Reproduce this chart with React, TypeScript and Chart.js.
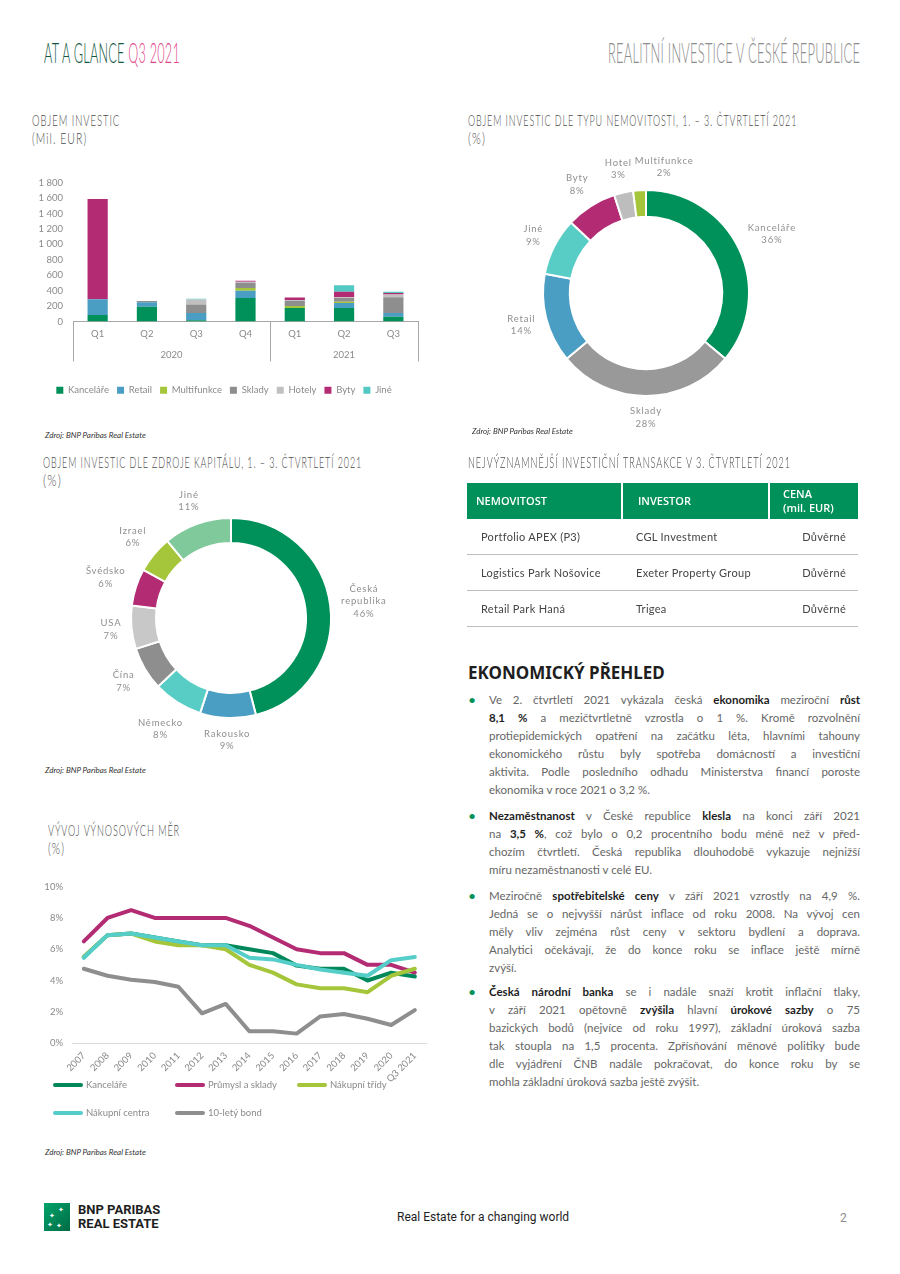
import React, { useEffect, useLayoutEffect, useRef, useState } from 'react';
import { Chart, registerables } from 'chart.js';
Chart.register(...registerables);

const FONT = 'Lato, "Open Sans", "DejaVu Sans", sans-serif';

// ---------- Bar chart: Objem investic (mil. EUR) ----------
const quarterLabels = ['Q1', 'Q2', 'Q3', 'Q4', 'Q1', 'Q2', 'Q3'];
const yearLabels = ['2020', '2021'];
const yearSpans = [4, 3];
const barSeriesNames = ['Kanceláře', 'Retail', 'Multifunkce', 'Sklady', 'Hotely', 'Byty', 'Jiné'];
const kancelare = [85, 190, 15, 305, 175, 175, 60];
const retail = [205, 60, 95, 95, 0, 65, 50];
const multifunkce = [0, 0, 0, 35, 25, 15, 0];
const sklady = [0, 15, 110, 65, 70, 50, 205];
const hotely = [0, 0, 65, 15, 10, 10, 35];
const byty = [1300, 0, 0, 15, 30, 70, 20];
const jine = [0, 0, 10, 0, 0, 85, 15];
const barColors = ['#00915a', '#4a9ec3', '#a5c63b', '#8e8e8e', '#c0c0c0', '#b32b73', '#52c9c3'];

// ---------- Donut 1: typ nemovitosti ----------
const typeLabels = ['Kanceláře', 'Sklady', 'Retail', 'Jiné', 'Byty', 'Hotel', 'Multifunkce'];
const typeValues = [36, 28, 14, 9, 8, 3, 2];
const typeColors = ['#00915a', '#999999', '#4a9ec3', '#58cdc6', '#b32b73', '#bdbdbd', '#a5c63b'];

// ---------- Donut 2: zdroj kapitálu ----------
const sourceLabels = ['Česká\nrepublika', 'Rakousko', 'Německo', 'Čína', 'USA', 'Švédsko', 'Izrael', 'Jiné'];
const sourceValues = [46, 9, 8, 7, 7, 6, 6, 11];
const sourceColors = ['#00915a', '#4a9ec3', '#58cdc6', '#8e8e8e', '#c8c8c8', '#b32b73', '#a5c63b', '#80c99b'];

// ---------- Line chart: výnosové míry ----------
const yieldYears = ['2007', '2008', '2009', '2010', '2011', '2012', '2013', '2014', '2015', '2016', '2017', '2018', '2019', '2020', 'Q3 2021'];
const yieldKancelare = [5.5, 6.9, 7.0, 6.75, 6.5, 6.25, 6.25, 6.0, 5.75, 4.95, 4.75, 4.75, 4.0, 4.5, 4.25];
const yieldPrumysl = [6.5, 8.0, 8.5, 8.0, 8.0, 8.0, 8.0, 7.5, 6.75, 6.0, 5.75, 5.75, 5.0, 5.0, 4.5];
const yieldTridy = [5.5, 6.9, 7.0, 6.5, 6.25, 6.25, 6.0, 5.0, 4.5, 3.75, 3.5, 3.5, 3.25, 4.3, 4.75];
const yieldCentra = [5.45, 6.9, 7.0, 6.75, 6.5, 6.25, 6.25, 5.45, 5.35, 5.0, 4.7, 4.5, 4.3, 5.3, 5.5];
const yieldBond = [4.75, 4.3, 4.05, 3.9, 3.6, 1.9, 2.5, 0.75, 0.75, 0.6, 1.7, 1.85, 1.55, 1.15, 2.1];
const yieldNames = ['Kanceláře', 'Průmysl a sklady', 'Nákupní třídy', 'Nákupní centra', '10-letý bond'];
const yieldColors = ['#00875a', '#b32b73', '#a5c63b', '#55cdc8', '#8e8e8e'];
const yieldDrawOrder = [2, 3, 1, 0, 4];

// ---------- Table ----------
const tableHeader = ['NEMOVITOST', 'INVESTOR', 'CENA\n(mil. EUR)'];
const tableRows = [
  ['Portfolio APEX (P3)', 'CGL Investment', 'Důvěrné'],
  ['Logistics Park Nošovice', 'Exeter Property Group', 'Důvěrné'],
  ['Retail Park Haná', 'Trigea', 'Důvěrné'],
];

// ---------- Text ----------
const paragraphs: string[][] = [
  [
    'Ve 2. čtvrtletí 2021 vykázala česká **ekonomika** meziroční **růst**',
    '**8,1 %** a mezičtvrtletně vzrostla o 1 %. Kromě rozvolnění',
    'protiepidemických opatření na začátku léta, hlavními tahouny',
    'ekonomického růstu byly spotřeba domácností a investiční',
    'aktivita. Podle posledního odhadu Ministerstva financí poroste',
    'ekonomika v roce 2021 o 3,2 %.',
  ],
  [
    '**Nezaměstnanost** v České republice **klesla** na konci září 2021',
    'na **3,5 %**, což bylo o 0,2 procentního bodu méně než v před-',
    'chozím čtvrtletí. Česká republika dlouhodobě vykazuje nejnižší',
    'míru nezaměstnanosti v celé EU.',
  ],
  [
    'Meziročně **spotřebitelské ceny** v září 2021 vzrostly na 4,9 %.',
    'Jedná se o nejvyšší nárůst inflace od roku 2008. Na vývoj cen',
    'měly vliv zejména růst ceny v sektoru bydlení a doprava.',
    'Analytici očekávají, že do konce roku se inflace ještě mírně',
    'zvýší.',
  ],
  [
    '**Česká národní banka** se i nadále snaží krotit inflační tlaky,',
    'v září 2021 opětovně **zvýšila** hlavní **úrokové sazby** o 75',
    'bazických bodů (nejvíce od roku 1997), základní úroková sazba',
    'tak stoupla na 1,5 procenta. Zpřísňování měnové politiky bude',
    'dle vyjádření ČNB nadále pokračovat, do konce roku by se',
    'mohla základní úroková sazba ještě zvýšit.',
  ],
];

// ---------- Plugins ----------
const groupAxisPlugin = {
  id: 'groupAxis',
  afterDraw(chart: any, _a: any, opts: any) {
    const xs = chart.scales.x;
    const ctx = chart.ctx;
    const n = chart.data.labels.length;
    const step = xs.width / n;
    const top = xs.top;
    ctx.save();
    ctx.strokeStyle = opts.color;
    ctx.lineWidth = 1;
    const edges = [xs.left];
    let idx = 0;
    opts.spans.forEach((s: number) => { idx += s; edges.push(xs.left + idx * step); });
    edges.forEach((e: number) => {
      ctx.beginPath();
      ctx.moveTo(Math.round(e) + 0.5, top);
      ctx.lineTo(Math.round(e) + 0.5, top + opts.lineLength);
      ctx.stroke();
    });
    ctx.fillStyle = opts.textColor;
    ctx.font = opts.font;
    ctx.textAlign = 'center';
    ctx.textBaseline = 'middle';
    let start = 0;
    opts.labels.forEach((lab: string, k: number) => {
      const a = xs.left + start * step;
      const b = a + opts.spans[k] * step;
      ctx.fillText(lab, (a + b) / 2, top + opts.labelOffset);
      start += opts.spans[k];
    });
    ctx.restore();
  },
};

const donutLabelPlugin = {
  id: 'donutLabels',
  afterDraw(chart: any, _a: any, opts: any) {
    const meta = chart.getDatasetMeta(0);
    const ctx = chart.ctx;
    const labels = chart.data.labels;
    const values = chart.data.datasets[0].data;
    ctx.save();
    ctx.font = opts.font;
    ctx.fillStyle = opts.color;
    try { (ctx as any).letterSpacing = opts.spacing; } catch (e) {}
    ctx.textAlign = 'center';
    ctx.textBaseline = 'middle';
    const boxes: any[] = [];
    meta.data.forEach((arc: any, i: number) => {
      const p = arc.getProps(['x', 'y', 'startAngle', 'endAngle', 'outerRadius'], true);
      const mid = (p.startAngle + p.endAngle) / 2;
      const lines = String(labels[i]).split('\n').concat([values[i] + '%']);
      const lh = opts.lineHeight;
      const w = Math.max(...lines.map((l: string) => ctx.measureText(l).width));
      const h = lines.length * lh;
      const dx = Math.cos(mid);
      const dy = Math.sin(mid);
      const ext = Math.abs(dx) * w / 2 + Math.abs(dy) * h / 2;
      const r = p.outerRadius + opts.pad + ext;
      let cx = p.x + dx * r;
      const cy = p.y + dy * r;
      // simple collision avoidance: push horizontally away from earlier labels
      boxes.forEach((b) => {
        const overlapX = Math.min(cx + w / 2, b.x + b.w / 2) - Math.max(cx - w / 2, b.x - b.w / 2);
        const overlapY = Math.min(cy + h / 2, b.y + b.h / 2) - Math.max(cy - h / 2, b.y - b.h / 2);
        if (overlapX > -3 && overlapY > 0) {
          const dir = cx >= b.x ? 1 : -1;
          cx += dir * (overlapX + 3);
        }
      });
      boxes.push({ x: cx, y: cy, w, h });
      lines.forEach((l: string, j: number) => ctx.fillText(l, cx, cy - h / 2 + lh / 2 + j * lh));
    });
    ctx.restore();
  },
};

const gridLegendPlugin = {
  id: 'gridLegend',
  afterDraw(chart: any, _a: any, opts: any) {
    const ctx = chart.ctx;
    ctx.save();
    ctx.font = opts.font;
    ctx.textBaseline = 'middle';
    ctx.textAlign = 'left';
    chart.data.datasets.forEach((ds: any, i: number) => {
      const col = i % opts.columns;
      const row = Math.floor(i / opts.columns);
      const x = opts.left + col * opts.colWidth;
      const y = chart.chartArea.bottom + opts.top + row * opts.rowHeight;
      ctx.strokeStyle = ds.borderColor;
      ctx.lineWidth = 4;
      ctx.lineCap = 'round';
      ctx.beginPath();
      ctx.moveTo(x + 2, y);
      ctx.lineTo(x + opts.sample - 2, y);
      ctx.stroke();
      ctx.fillStyle = opts.color;
      ctx.fillText(ds.label, x + opts.sample + 3, y);
    });
    ctx.restore();
  },
};

// ---------- Components ----------
function ChartCanvas({ left, top, width, height, build }: any) {
  const ref = useRef<HTMLCanvasElement>(null);
  useEffect(() => {
    const chart = new Chart(ref.current as HTMLCanvasElement, build());
    return () => chart.destroy();
  }, []);
  return (
    <canvas ref={ref} width={width} height={height}
      style={{ position: 'absolute', left, top, width, height }} />
  );
}

function Fit({ left, top, width, size, color, weight = 300, spacing = 1, family = FONT, children }: any) {
  const ref = useRef<HTMLDivElement>(null);
  const [s, setS] = useState(1);
  useLayoutEffect(() => {
    const measure = () => {
      const el = ref.current;
      if (el && el.offsetWidth > 0) setS(width / el.offsetWidth);
    };
    measure();
    if ((document as any).fonts) (document as any).fonts.ready.then(measure);
  }, [width]);
  return (
    <div ref={ref} style={{
      position: 'absolute', left, top, whiteSpace: 'nowrap', fontFamily: family,
      fontWeight: weight, fontSize: size, lineHeight: 1, letterSpacing: spacing, color,
      transform: `scaleX(${s})`, transformOrigin: '0 0',
    }}>{children}</div>
  );
}

function Title({ left, top, lines }: any) {
  return (
    <>
      {lines.map((l: any, i: number) => (
        <Fit key={i} left={left} top={top + i * 18} width={l[1]} size={15} color="#4a4a4a" spacing={1.5}>{l[0]}</Fit>
      ))}
    </>
  );
}

function Source({ left, top }: any) {
  return (
    <div style={{ position: 'absolute', left, top, fontFamily: FONT, fontStyle: 'italic', fontSize: 8, color: '#333', whiteSpace: 'nowrap', lineHeight: 1 }}>
      Zdroj: BNP Paribas Real Estate
    </div>
  );
}

function RichLine({ text }: { text: string }) {
  const parts = text.split('**');
  return (
    <>
      {parts.map((p, i) => i % 2 === 1
        ? <b key={i} style={{ color: '#1e1e1e', fontWeight: 700 }}>{p}</b>
        : <span key={i}>{p}</span>)}
    </>
  );
}

const tickFont = { family: FONT, size: 9.5 };

function buildBar() {
  const series = [kancelare, retail, multifunkce, sklady, hotely, byty, jine];
  return {
    type: 'bar',
    data: {
      labels: quarterLabels,
      datasets: barSeriesNames.map((n, i) => ({
        label: n, data: series[i], backgroundColor: barColors[i],
        barPercentage: 0.41, categoryPercentage: 1, borderWidth: 0,
      })),
    },
    options: {
      animation: false, responsive: false, maintainAspectRatio: false,
      layout: { padding: { top: 4, right: 12, left: 0, bottom: 0 } },
      plugins: {
        tooltip: { enabled: false },
        legend: {
          position: 'bottom',
          labels: { boxWidth: 7, boxHeight: 7, padding: 8, color: '#8a8a8a', font: { family: FONT, size: 9.5 } },
        },
        groupAxis: {
          labels: yearLabels, spans: yearSpans, lineLength: 40, labelOffset: 33,
          color: '#a8a8a8', textColor: '#8a8a8a', font: `9.5px ${FONT}`,
        },
      },
      scales: {
        x: {
          stacked: true,
          grid: { display: false, drawTicks: false },
          border: { display: true, color: '#a8a8a8' },
          ticks: { color: '#8a8a8a', font: tickFont, padding: 7 },
          afterFit: (s: any) => { s.height = 56; },
        },
        y: {
          stacked: true, min: 0, max: 1800,
          grid: { display: false, drawTicks: false },
          border: { display: false },
          ticks: {
            stepSize: 200, color: '#8a8a8a', font: tickFont, padding: 10,
            callback: (v: number) => v >= 1000 ? `${Math.floor(v / 1000)} ${String(v % 1000).padStart(3, '0')}` : String(v),
          },
          afterFit: (s: any) => { s.width = 43; },
        },
      },
    },
    plugins: [groupAxisPlugin],
  } as any;
}

function buildDonut(labels: string[], values: number[], colors: string[], padding: any, cutout: string) {
  return () => ({
    type: 'doughnut',
    data: {
      labels,
      datasets: [{ data: values, backgroundColor: colors, borderColor: '#ffffff', borderWidth: 2 }],
    },
    options: {
      animation: false, responsive: false, maintainAspectRatio: false,
      cutout,
      layout: { padding },
      plugins: {
        legend: { display: false },
        tooltip: { enabled: false },
        donutLabels: { font: `9.5px ${FONT}`, color: '#8f8f8f', spacing: '0.8px', lineHeight: 12.5, pad: 9 },
      },
    },
    plugins: [donutLabelPlugin],
  } as any);
}

function buildLine() {
  const series = [yieldKancelare, yieldPrumysl, yieldTridy, yieldCentra, yieldBond];
  return {
    type: 'line',
    data: {
      labels: yieldYears,
      datasets: yieldNames.map((n, i) => ({
        label: n, data: series[i], borderColor: yieldColors[i], backgroundColor: yieldColors[i],
        borderWidth: 4, pointRadius: 0, tension: 0, fill: false,
        borderJoinStyle: 'round', borderCapStyle: 'round', order: yieldDrawOrder[i],
      })),
    },
    options: {
      animation: false, responsive: false, maintainAspectRatio: false,
      layout: { padding: { top: 8, right: 3, left: 0, bottom: 40 } },
      plugins: {
        legend: { display: false },
        tooltip: { enabled: false },
        gridLegend: {
          font: `9.5px ${FONT}`, color: '#8a8a8a', columns: 3, colWidth: 122,
          left: 23, top: 42, rowHeight: 28, sample: 30,
        },
      },
      scales: {
        x: {
          offset: true,
          grid: { display: false, drawTicks: false },
          border: { display: true, color: '#dcdcdc' },
          ticks: { color: '#8a8a8a', font: tickFont, minRotation: 45, maxRotation: 45, padding: 7, autoSkip: false },
          afterFit: (s: any) => { s.height = 51; },
        },
        y: {
          min: 0, max: 10,
          grid: { display: false, drawTicks: false },
          border: { display: false },
          ticks: { stepSize: 2, color: '#8a8a8a', font: tickFont, padding: 9, callback: (v: number) => `${v}%` },
          afterFit: (s: any) => { s.width = 42; },
        },
      },
    },
    plugins: [gridLegendPlugin],
  } as any;
}

export default function App() {
  const lineTops = [691, 807, 887, 983];
  return (
    <div style={{ position: 'absolute', left: 0, top: 0, width: 900, height: 1274, background: '#fff', overflow: 'hidden', fontFamily: FONT }}>
      {/* Header */}
      <Fit left={44} top={38} width={136} size={28} color="#11573f" spacing={0.5}>
        AT A GLANCE <span style={{ color: '#e2468a' }}>Q3 2021</span>
      </Fit>
      <Fit left={608} top={38} width={252} size={28} color="#8c8c8c" spacing={0.5}>
        REALITNÍ INVESTICE V ČESKÉ REPUBLICE
      </Fit>

      {/* Bar chart */}
      <Title left={32} top={113} lines={[['OBJEM INVESTIC', 88], ['(Mil. EUR)', 55]]} />
      <ChartCanvas left={30} top={167} width={400} height={238} build={buildBar} />
      <Source left={45} top={431} />

      {/* Donut 1 */}
      <Title left={468} top={113} lines={[['OBJEM INVESTIC DLE TYPU NEMOVITOSTI, 1. – 3. ČTVRTLETÍ 2021', 329], ['(%)', 18]]} />
      <ChartCanvas left={460} top={150} width={400} height={280}
        build={buildDonut(typeLabels, typeValues, typeColors, { left: 82, right: 110, top: 39, bottom: 33 }, '74%')} />
      <Source left={472} top={427} />

      {/* Donut 2 */}
      <Title left={43} top={455} lines={[['OBJEM INVESTIC DLE ZDROJE KAPITÁLU, 1. – 3. ČTVRTLETÍ 2021', 319], ['(%)', 19]]} />
      <ChartCanvas left={30} top={485} width={400} height={280}
        build={buildDonut(sourceLabels, sourceValues, sourceColors, { left: 100, right: 98, top: 32, bottom: 46 }, '75%')} />
      <Source left={45} top={766} />

      {/* Table */}
      <Title left={468} top={455} lines={[['NEJVÝZNAMNĚJŠÍ INVESTIČNÍ TRANSAKCE V 3. ČTVRTLETÍ 2021', 323]]} />
      <div style={{ position: 'absolute', left: 467, top: 483, width: 391 }}>
        <div style={{ display: 'flex', height: 36, background: '#00915a', color: '#fff', fontFamily: '"Open Sans", sans-serif', fontWeight: 600, fontSize: 11 }}>
          {tableHeader.map((h, i) => (
            <div key={i} style={{
              width: [154, 147, 90][i], boxSizing: 'border-box', paddingLeft: [9, 15, 13][i],
              borderLeft: i > 0 ? '2px solid #fff' : 'none', display: 'flex', alignItems: 'center',
              whiteSpace: 'pre', lineHeight: '14px',
            }}>{h}</div>
          ))}
        </div>
        {tableRows.map((r, ri) => (
          <div key={ri} style={{ display: 'flex', height: 35, borderBottom: '1.5px solid #bdbdbd', color: '#444', fontSize: 11, fontFamily: FONT, letterSpacing: 0.3 }}>
            {r.map((c, ci) => (
              <div key={ci} style={{
                width: [154, 147, 90][ci], boxSizing: 'border-box', display: 'flex', alignItems: 'center',
                paddingLeft: ci === 0 ? 14 : ci === 1 ? 15 : 0, paddingRight: ci === 2 ? 12 : 0,
                justifyContent: ci === 2 ? 'flex-end' : 'flex-start', whiteSpace: 'nowrap',
              }}>{c}</div>
            ))}
          </div>
        ))}
      </div>

      {/* Economic overview */}
      <div style={{ position: 'absolute', left: 468, top: 662, fontFamily: '"Noto Sans", sans-serif', fontWeight: 700, fontSize: 17, color: '#1e1e1e', lineHeight: '22px', whiteSpace: 'nowrap' }}>
        EKONOMICKÝ PŘEHLED
      </div>
      {paragraphs.map((p, pi) => (
        <div key={pi} style={{ position: 'absolute', left: 468, top: lineTops[pi], width: 392 }}>
          <div style={{ position: 'absolute', left: 0, top: 0, color: '#00915a', fontSize: 14, lineHeight: '18px' }}>•</div>
          {p.map((line, li) => (
            <div key={li} style={{
              marginLeft: 21, width: 371, height: 18, lineHeight: '18px', fontSize: 11.5, color: '#666',
              fontFamily: FONT, whiteSpace: 'nowrap', overflow: 'visible',
              textAlign: li === p.length - 1 ? 'left' : 'justify',
              textAlignLast: li === p.length - 1 ? 'left' : 'justify',
            } as any}>
              <RichLine text={line} />
            </div>
          ))}
        </div>
      ))}

      {/* Line chart */}
      <Title left={48} top={823} lines={[['VÝVOJ VÝNOSOVÝCH MĚR', 132], ['(%)', 17]]} />
      <ChartCanvas left={30} top={872} width={400} height={262} build={buildLine} />
      <Source left={45} top={1148} />

      {/* Footer */}
      <div style={{ position: 'absolute', left: 44, top: 1203, width: 26, height: 28, background: 'linear-gradient(135deg, #00a46a, #006b45)', color: '#fff', fontSize: 7, lineHeight: '7px', overflow: 'hidden' }}>
        <span style={{ position: 'absolute', left: 14, top: 3 }}>✦</span>
        <span style={{ position: 'absolute', left: 5, top: 9 }}>✦</span>
        <span style={{ position: 'absolute', left: 3, top: 18 }}>✦</span>
        <span style={{ position: 'absolute', left: 12, top: 19 }}>✦</span>
      </div>
      <div style={{ position: 'absolute', left: 78, top: 1203, fontFamily: 'Roboto, sans-serif', fontWeight: 700, fontSize: 13, lineHeight: '14px', color: '#1e1e1e' }}>
        BNP PARIBAS<br />REAL ESTATE
      </div>
      <div style={{ position: 'absolute', left: 397, top: 1210, fontFamily: 'Roboto, sans-serif', fontSize: 12, lineHeight: '14px', color: '#1e1e1e', whiteSpace: 'nowrap' }}>
        Real Estate for a changing world
      </div>
      <div style={{ position: 'absolute', left: 840, top: 1211, fontFamily: 'Roboto, sans-serif', fontSize: 12, lineHeight: '14px', color: '#8c8c8c' }}>
        2
      </div>
    </div>
  );
}
